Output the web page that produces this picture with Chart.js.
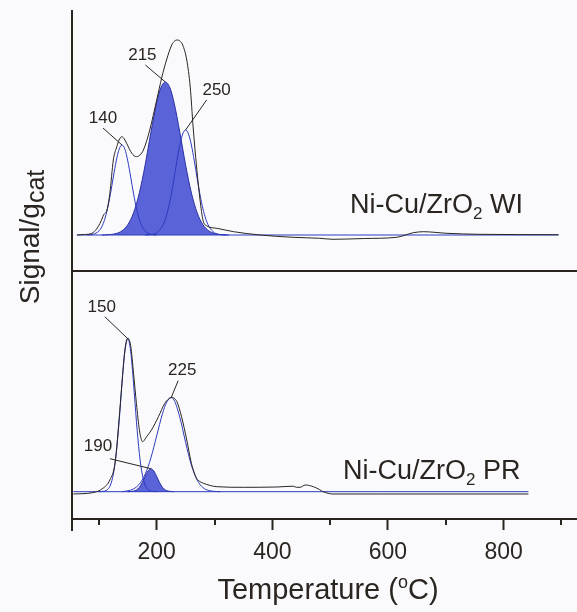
<!DOCTYPE html>
<html>
<head>
<meta charset="utf-8">
<title>H2-TPR Ni-Cu/ZrO2</title>
<script src="https://cdn.jsdelivr.net/npm/chart.js@4.4.1/dist/chart.umd.min.js"></script>
<style>
  html, body { margin: 0; padding: 0; background: #fafafd; }
  #wrap { position: relative; width: 577px; height: 612px; }
</style>
</head>
<body>
<div id="wrap"><canvas id="tpr" width="577" height="612"></canvas></div>
<script>
// shared temperature axis (°C)
const tempTicks = [100, 200, 300, 400, 500, 600, 700, 800, 900];
const labelledTicks = [200, 400, 600, 800];

// Ni-Cu/ZrO2 WI : measured signal and fitted peaks, [T, signal]
const wiSignal = [[62,0],[75,0.5],[88,1.7],[96,6],[102,11.7],[106,17],[108,20],[114,25],[119,41.7],[125,75],[131,88.3],[135,95],[139.5,98.3],[144,96],[148,91.7],[157,81.7],[165,78.3],[171,80],[177,85],[188,105],[200,135],[209,158],[217,175],[226,190],[231,194],[236,195],[241,193.5],[245,190],[252,175],[258,148],[263,108],[269,68],[275,35],[280,15],[287,9],[304,6.7],[333,3.3],[379,0],[436,-2.3],[482,-3.3],[505,-4.3],[560,-3.5],[615,-2.3],[644,2.3],[661,3.3],[702,1.7],[759,0.7],[895,0.3]];
const wiPeak140 = [[80,0],[90,0.7],[100,4],[105,8.2],[110,15.5],[115,26.6],[120,41.2],[125,58],[130,74],[135,85.7],[140,90],[145,85.7],[150,74],[155,58],[160,41.2],[165,26.6],[170,15.5],[175,8.2],[180,4],[190,0.7],[200,0]];
const wiPeak215 = [[105,0],[110,0.1],[120,0.5],[130,1.5],[140,4.2],[150,10.3],[160,22.2],[170,42.1],[180,70],[190,102.7],[200,132.5],[207,147],[215,153],[223,147],[230,132.5],[240,102.7],[250,70],[260,42.1],[270,22.2],[280,10.3],[290,4.2],[300,1.5],[310,0.5],[320,0.1],[325,0]];
const wiPeak250 = [[180,0],[190,0.4],[200,2.2],[210,8.9],[215,15.9],[220,26.2],[225,40],[230,56.6],[235,74.2],[240,90],[245,101],[250,105],[255,101],[260,90],[265,74.2],[270,56.6],[275,40],[280,26.2],[285,15.9],[290,8.9],[300,2.2],[310,0.4],[320,0]];
const wiBaseline = [[62,0],[895,0]];

// Ni-Cu/ZrO2 PR
const prSignal = [[56,-2.3],[89,-1],[107,3.4],[119,11.7],[128,29],[136,80],[141,117],[145,142],[150,153.5],[155,146],[160,118],[165,88],[170,62],[175.7,50],[178,51],[182.6,55],[191,61.7],[203,75],[214,88.4],[220,92.5],[225,94.4],[230,93.5],[235,90],[243,75],[252,51.7],[260,28.4],[265,19],[269,13.4],[275,10],[281,8.4],[304,5],[350,4.4],[408,4.7],[436,5.5],[442,4.4],[448,4.4],[457,6.7],[471,5],[482,2],[488,0],[505,-2.3],[586,-2.3],[843,-2.3]];
const prPeak150 = [[100,0],[110,0.6],[115,2.2],[120,6.7],[125,17.5],[130,38.2],[135,70],[140,108],[145,140.3],[150,153],[155,140.3],[160,108],[165,70],[170,38.2],[175,17.5],[180,6.7],[185,2.2],[190,0.6],[200,0]];
const prPeak190 = [[150,0],[160,0.6],[165,1.7],[170,4.4],[175,9.1],[180,15.2],[185,20.7],[190,23],[195,20.7],[200,15.2],[205,9.1],[210,4.4],[215,1.7],[220,0.6],[230,0]];
const prPeak225 = [[140,0],[150,0.9],[160,2.8],[170,7.6],[180,17.4],[190,33.9],[200,55.9],[210,78],[217,89.1],[225,94],[230,91.7],[240,74.5],[250,49.3],[260,26.5],[270,11.6],[280,4.1],[290,1.2],[300,0.3],[310,0]];
const prBaseline = [[56,0],[843,0]];

const FONT = '"Liberation Sans", Arial, Helvetica, sans-serif';
const INK = '#2a2521';
const LINE_BLUE = '#2c3abd';
const EDGE_BLUE = '#2a30a0';
const FILL_BLUE = '#5b63d9';

function series(data, yAxisID, color, fill) {
  return {
    data: data.map(([x, y]) => ({ x, y })),
    yAxisID,
    borderColor: color,
    borderWidth: 1,
    backgroundColor: fill || 'transparent',
    fill: fill ? 'origin' : false,
    pointRadius: 0,
    cubicInterpolationMode: 'monotone'
  };
}

// peak labels: text comes from the peak position of each fitted curve
const peakNotes = [
  { data: wiPeak140, axis: 'yTop', text: [-19, -27], lead: [-19, -17] },
  { data: wiPeak215, axis: 'yTop', text: [-23, -27], lead: [-20, -17] },
  { data: wiPeak250, axis: 'yTop', text: [31, -40], lead: [21, -30] },
  { data: prPeak150, axis: 'yBot', text: [-26, -31], lead: [-23, -22] },
  { data: prPeak225, axis: 'yBot', text: [11, -27], lead: [7, -17] },
  { data: prPeak190, axis: 'yBot', text: [-53, -22], lead: [-41, -10] }
];

// draws a run of text pieces [text, size, shift] starting at x on baseline y
function textRun(ctx, x, y, parts, align) {
  let w = 0;
  for (const p of parts) { ctx.font = p[1] + 'px ' + FONT; w += ctx.measureText(p[0]).width; }
  let cx = align === 'center' ? x - w / 2 : x;
  for (const p of parts) {
    ctx.font = p[1] + 'px ' + FONT;
    ctx.fillText(p[0], cx, y + (p[2] || 0));
    cx += ctx.measureText(p[0]).width;
  }
}

const framePlugin = {
  id: 'frame',
  afterDraw(chart) {
    const { ctx, chartArea: area, scales } = chart;
    const x = scales.x, yBot = scales.yBot;
    ctx.save();
    ctx.strokeStyle = INK;
    ctx.fillStyle = INK;
    ctx.lineWidth = 2;

    // left axis and panel separator
    ctx.beginPath();
    ctx.moveTo(area.left, area.top);
    ctx.lineTo(area.left, area.bottom + 12);
    ctx.moveTo(area.left, yBot.top);
    ctx.lineTo(area.right, yBot.top);
    ctx.stroke();

    // minor ticks
    ctx.beginPath();
    for (const v of tempTicks) {
      if (labelledTicks.includes(v)) continue;
      const px = Math.round(x.getPixelForValue(v));
      ctx.moveTo(px, area.bottom);
      ctx.lineTo(px, area.bottom + 6);
    }
    ctx.stroke();

    // peak labels with leader lines
    ctx.lineWidth = 1;
    ctx.textBaseline = 'middle';
    ctx.textAlign = 'left';
    for (const n of peakNotes) {
      const top = n.data.reduce((a, b) => (b[1] > a[1] ? b : a));
      const px = x.getPixelForValue(top[0]);
      const py = scales[n.axis].getPixelForValue(top[1]);
      ctx.beginPath();
      ctx.moveTo(px + n.lead[0], py + n.lead[1]);
      ctx.lineTo(px, py);
      ctx.stroke();
      textRun(ctx, px + n.text[0], py + n.text[1], [[String(top[0]), 17]], 'center');
    }

    // sample names
    ctx.textBaseline = 'alphabetic';
    textRun(ctx, 350, 213, [['Ni-Cu/ZrO', 27], ['2', 17, 6], [' WI', 27]]);
    textRun(ctx, 343, 479, [['Ni-Cu/ZrO', 27], ['2', 17, 6], [' PR', 27]]);

    // axis titles
    textRun(ctx, 328, 599, [['Temperature (', 29], ['o', 18, -11], ['C)', 29]], 'center');
    ctx.translate(39, 237);
    ctx.rotate(-Math.PI / 2);
    textRun(ctx, 0, 0, [['Signal/g', 28], ['cat', 25, 5]], 'center');
    ctx.restore();
  }
};

const hiddenY = { display: false };

new Chart(document.getElementById('tpr'), {
  type: 'line',
  data: {
    datasets: [
      series(wiSignal, 'yTop', INK),
      series(prSignal, 'yBot', INK),
      series(wiPeak140, 'yTop', LINE_BLUE),
      series(wiPeak250, 'yTop', LINE_BLUE),
      series(wiBaseline, 'yTop', LINE_BLUE),
      series(prPeak150, 'yBot', LINE_BLUE),
      series(prPeak225, 'yBot', LINE_BLUE),
      series(prBaseline, 'yBot', LINE_BLUE),
      series(wiPeak215, 'yTop', EDGE_BLUE, FILL_BLUE),
      series(prPeak190, 'yBot', EDGE_BLUE, FILL_BLUE)
    ]
  },
  options: {
    responsive: false,
    animation: false,
    layout: { padding: { left: 72, top: 10, right: 0, bottom: 0 } },
    plugins: { legend: { display: false }, tooltip: { enabled: false } },
    scales: {
      x: {
        type: 'linear',
        min: 53.5,
        max: 927,
        afterBuildTicks: s => { s.ticks = tempTicks.map(v => ({ value: v })); },
        afterFit: s => { s.height = 93; },
        grid: {
          drawOnChartArea: false,
          drawTicks: true,
          tickLength: 11,
          tickWidth: 2,
          tickColor: c => (labelledTicks.includes(c.tick && c.tick.value) ? INK : 'transparent')
        },
        border: { display: true, color: INK, width: 2 },
        ticks: {
          autoSkip: false,
          maxRotation: 0,
          padding: 9,
          color: INK,
          font: { family: FONT, size: 23 },
          callback: v => (labelledTicks.includes(v) ? String(v) : '')
        }
      },
      // stacked panels: the later entry is laid out on top
      yBot: {
        type: 'linear', position: 'left', stack: 'tpr', stackWeight: 248,
        min: -27.3, max: 220.7,
        afterFit: s => { s.width = 0; },
        ticks: hiddenY, grid: hiddenY, border: hiddenY
      },
      yTop: {
        type: 'linear', position: 'left', stack: 'tpr', stackWeight: 261,
        min: -36, max: 225,
        afterFit: s => { s.width = 0; },
        ticks: hiddenY, grid: hiddenY, border: hiddenY
      }
    }
  },
  plugins: [framePlugin]
});
</script>
</body>
</html>
